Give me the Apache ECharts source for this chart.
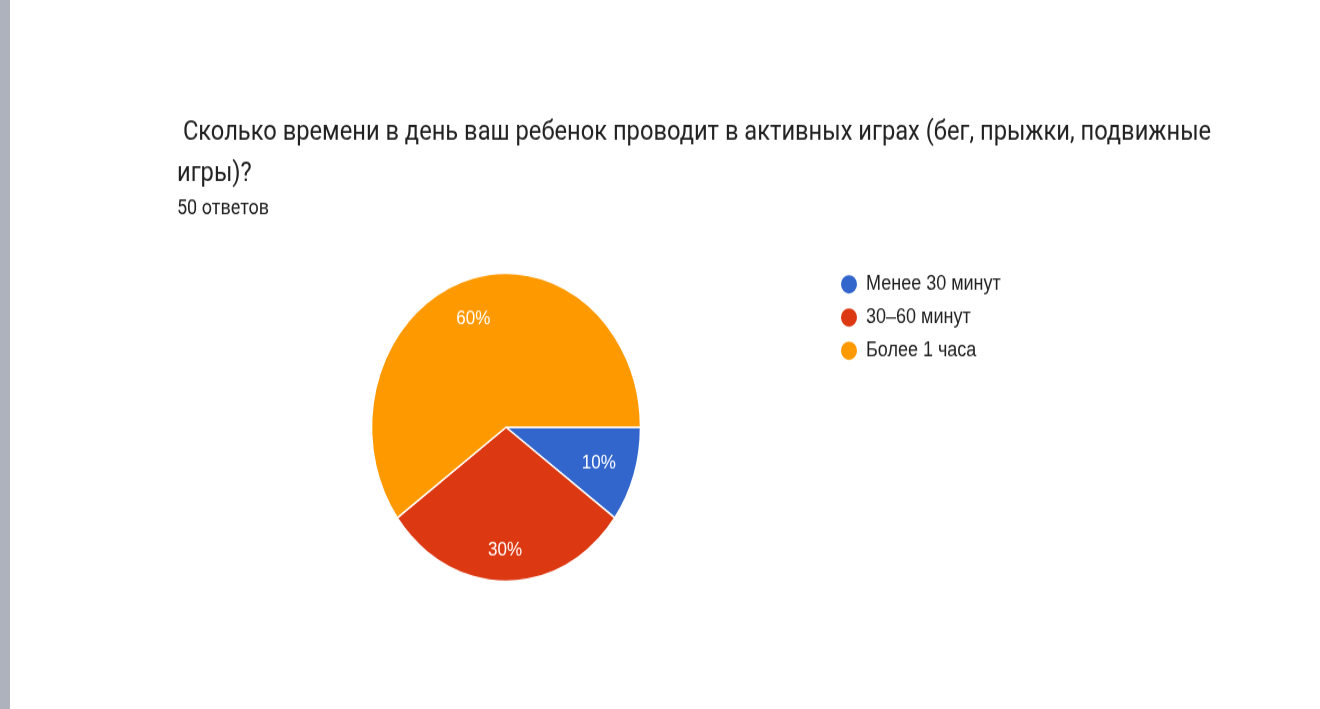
<!DOCTYPE html>
<html>
<head>
<meta charset="utf-8">
<script src="https://cdn.jsdelivr.net/npm/echarts@6/dist/echarts.min.js"></script>
<style>
  html, body { margin: 0; padding: 0; background: #fff; overflow: hidden; }
  #bar { position: absolute; left: 0; top: 0; width: 10px; height: 709px; background: #adb2bc; }
  /* the source screenshot is stretched vertically, so the chart is too */
  #main { position: absolute; left: 0; top: 0; width: 1320px; height: 619px;
          transform: scaleY(1.1454); transform-origin: 0 0; }
</style>
</head>
<body>
<div id="bar"></div>
<div id="main"></div>
<script>
const titleText = " Сколько времени в день ваш ребенок проводит в активных играх (бег, прыжки, подвижные\nигры)?";
const subText = "50 ответов";
const categories = ["Менее 30 минут", "30–60 минут", "Более 1 часа"];
const values = [5, 15, 30];
const colors = ["#3366cc", "#dc3912", "#ff9900"];

const chart = echarts.init(document.getElementById("main"));

// nudge the slice labels to where google charts puts them
const labelNudge = [
  [26, 9.7],
  [-1, 37],
  [-11, -28],
];

const option = {
  animation: false,
  title: [
    {
      text: titleText,
      left: 172,
      top: 92.5,
      textStyle: {
        fontFamily: "Roboto",
        fontSize: 23.7,
        fontWeight: "normal",
        color: "#212121",
        lineHeight: 36.7,
      },
    },
    {
      text: subText,
      left: 172,
      top: 167.5,
      textStyle: {
        fontFamily: "Roboto",
        fontSize: 18,
        fontWeight: "normal",
        color: "#212121",
        lineHeight: 20,
      },
    },
  ],
  legend: {
    orient: "vertical",
    left: 834,
    top: 233.2,
    itemWidth: 18,
    itemHeight: 18,
    itemGap: 9,
    icon: "circle",
    data: categories,
    textStyle: {
      fontFamily: "Liberation Sans",
      fontSize: 18,
      color: "#222",
      padding: [0, 0, 0, 3],
    },
  },
  series: [
    {
      type: "pie",
      center: [506, 373],
      radius: 134.5,
      startAngle: 0,
      clockwise: true,
      color: colors,
      itemStyle: {
        borderColor: "#fff",
        borderWidth: 1.5,
      },
      emphasis: { disabled: true },
      label: {
        position: "inside",
        formatter: "{d}%",
        color: "#fff",
        fontFamily: "Liberation Sans",
        fontSize: 17,
      },
      labelLine: { show: false },
      labelLayout: (params) => ({
        dx: labelNudge[params.dataIndex][0],
        dy: labelNudge[params.dataIndex][1],
      }),
      data: categories.map((name, i) => ({ name: name, value: values[i] })),
    },
  ],
};
chart.setOption(option);
</script>
</body>
</html>
